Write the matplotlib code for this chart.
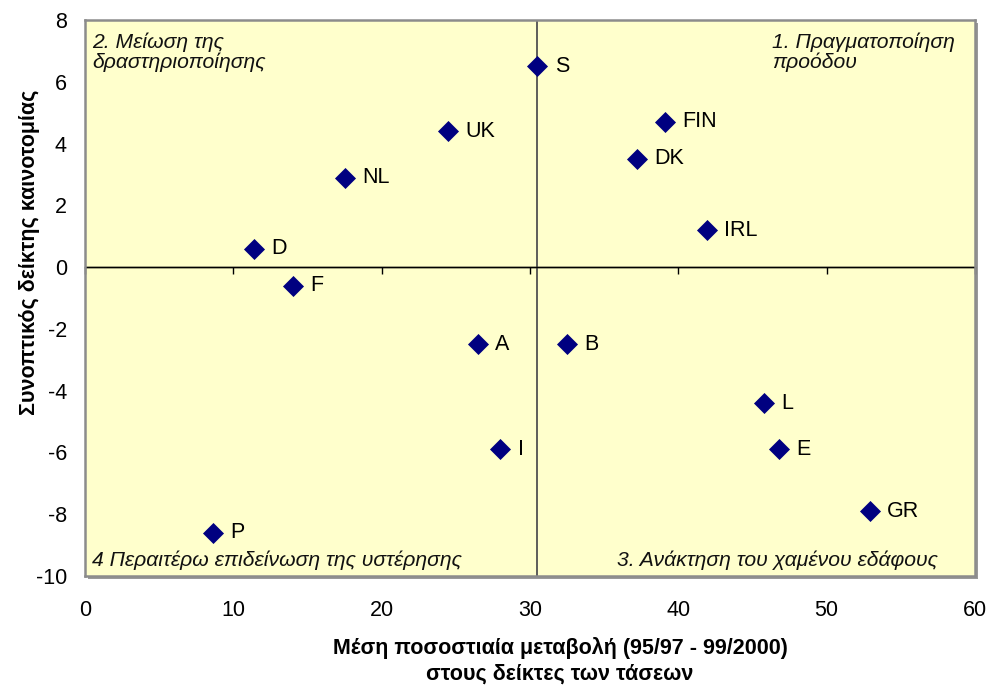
import matplotlib
matplotlib.use("Agg")
import matplotlib.pyplot as plt
from matplotlib.patches import Rectangle

plt.rcParams['font.family'] = ['Liberation Sans', 'DejaVu Sans']
plt.rcParams['axes.unicode_minus'] = False

countries = ["S", "UK", "NL", "D", "F", "FIN", "DK", "IRL", "A", "B", "I", "P", "L", "E", "GR"]
trend_change = [30.5, 24.5, 17.5, 11.4, 14.0, 39.1, 37.2, 41.9, 26.5, 32.5, 28.0, 8.6, 45.8, 46.8, 52.9]
innovation_index = [6.5, 4.4, 2.9, 0.6, -0.6, 4.7, 3.5, 1.2, -2.5, -2.5, -5.9, -8.6, -4.4, -5.9, -7.9]
x_divider = 30.5
y_divider = 0
xticks = [0, 10, 20, 30, 40, 50, 60]
yticks = [-10, -8, -6, -4, -2, 0, 2, 4, 6, 8]
quadrants = [
    ("2. Μείωση της\nδραστηριοποίησης", 0.008, 0.978, 'left', 'top'),
    ("1. Πραγματοποίηση\nπροόδου", 0.772, 0.978, 'left', 'top'),
    ("4 Περαιτέρω επιδείνωση της υστέρησης", 0.008, 0.028, 'left', 'center'),
    ("3. Ανάκτηση του χαμένου εδάφους", 0.958, 0.028, 'right', 'center'),
]
xlabel = "Μέση ποσοστιαία μεταβολή (95/97 - 99/2000)\nστους δείκτες των τάσεων"
ylabel = "Συνοπτικός δείκτης καινοτομίας"

FS = 15.5
W, H = 989, 686
pos = [85/W, 1-576/H, 890/W, 556/H]

fig = plt.figure(figsize=(9.89, 6.86), dpi=100)
# drop shadow behind the plot area
shadow = Rectangle((pos[0] + 3/W, pos[1] - 3/H), pos[2], pos[3],
                   transform=fig.transFigure, facecolor='#9a9a9a',
                   edgecolor='none', zorder=-5)
fig.patches.append(shadow)
ax = fig.add_axes(pos)
ax.set_zorder(1)
ax.set_facecolor('#FFFFCC')
ax.set_xlim(0, 60)
ax.set_ylim(-10, 8)

ax.axvline(x_divider, color='#505050', lw=1.3, zorder=1)
ax.axhline(y_divider, color='black', lw=1.0, zorder=1)

ax.scatter(trend_change, innovation_index, marker='D', s=115, color='#000080', zorder=3, linewidths=0)
for name, x, y in zip(countries, trend_change, innovation_index):
    ax.annotate(name, (x, y), xytext=(12.5, 0), textcoords='offset points',
                ha='left', va='center', fontsize=FS, color='black', zorder=4)

for txt, qx, qy, ha, va in quadrants:
    ax.text(qx, qy, txt, transform=ax.transAxes, ha=ha, va=va, fontsize=FS - 0.3,
            style='italic', linespacing=1.05, color='#111111')

ax.set_xticks(xticks)
ax.set_yticks(yticks)
ax.tick_params(axis='x', length=0, pad=17, labelsize=FS)
ax.tick_params(axis='y', length=0, pad=13, labelsize=FS)

sec = ax.secondary_xaxis(0, transform=ax.transData)
sec.set_xticks(xticks)
sec.tick_params(direction='out', length=5, width=1, labelbottom=False, color='black')
sec.spines['bottom'].set_color('black')
sec.spines['bottom'].set_linewidth(1.0)

for sp in ax.spines.values():
    sp.set_color('#8c8c8c')
    sp.set_linewidth(1.8)

ax.set_xlabel(xlabel, fontsize=FS, fontweight='bold', linespacing=1.3)
ax.xaxis.set_label_coords((560-85)/890, -0.110)
ax.xaxis.label.set_va('top')
ax.set_ylabel(ylabel, fontsize=FS, fontweight='bold')
ax.yaxis.set_label_coords(-0.0506, 1-(252-20)/556)

fig.savefig('out.png', dpi=100)
